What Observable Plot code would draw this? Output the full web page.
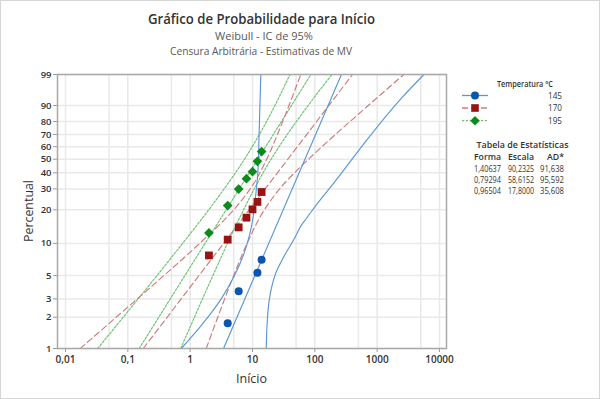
<!DOCTYPE html>
<html><head><meta charset="utf-8">
<script src="https://cdn.jsdelivr.net/npm/d3@7"></script>
<script src="https://cdn.jsdelivr.net/npm/@observablehq/plot@0.6"></script>
<style>
body{margin:0;background:#fff;}
#wrap{position:relative;width:600px;height:399px;overflow:hidden;background:#fff;}
#border{position:absolute;left:0;top:0;width:598px;height:397px;border:1px solid #d6d6d6;pointer-events:none}
</style></head><body>
<div id="wrap"><div id="border"></div></div>
<script>
// ---------- data ----------
const groups = ["145", "170", "195"];
const forma  = ["1,40637", "0,79294", "0,96504"];
const escala = ["90,2325", "58,6152", "17,8000"];
const adStat = ["91,638", "95,592", "35,608"];

// observed plotting positions (Início, Percentual)
const x145 = [4, 6, 12, 14];
const p145 = [1.75, 3.55, 5.32, 7.06];
const x170 = [2, 4, 6, 8, 10, 12, 14];
const p170 = [7.74, 10.84, 14.0, 17.1, 20.2, 23.4, 28.3];
const x195 = [2, 4, 6, 8, 10, 12, 14];
const p195 = [12.46, 21.8, 29.9, 36.1, 40.8, 48.4, 56.0];

// fitted lines (end points at 1% and 99%)
const fitP = [1, 99];
const fit145X = [3.43, 267];
const fit170X = [0.177, 402];
const fit195X = [0.152, 86.6];

// confidence bounds
const ci145LoP = [1, 1.66, 3.0, 5.0, 8.3, 11.9, 16.8, 22, 40.6, 66.7, 90.3, 99];
const ci145LoX = [0.72, 1.5, 3.15, 5.14, 7.44, 8.95, 10.15, 10.8, 12.2, 12.7, 13.15, 13.6];
const ci145HiP = [1, 1.78, 2.6, 3.74, 5.4, 7.74, 11.1, 14.6, 16.8, 22, 34, 66.7, 93.3, 99];
const ci145HiX = [16.6, 17.2, 18.1, 20, 24, 32.6, 47, 60.5, 73, 105, 207, 711, 2437, 5640];
const ciP = [1, 2, 5, 10, 20, 30, 50, 70, 90, 99];
const ci170LoX = [0.0172, 0.0649, 0.378, 1.42, 4.99, 9.19, 16.9, 25.1, 38.5, 59.4];
const ci170HiX = [1.81, 2.77, 4.99, 8.19, 15.5, 27.2, 79.2, 214, 720, 2673];
const ci195LoX = [0.0328, 0.0841, 0.293, 0.755, 1.98, 3.51, 7.44, 12.9, 22.9, 39.8];
const ci195HiX = [0.704, 1.17, 2.31, 3.96, 7.17, 10.65, 19.9, 36.1, 78.1, 188];

// axes
const yTicks = [1, 2, 3, 5, 10, 20, 30, 40, 50, 60, 70, 80, 90, 99];
const xGrid = [0.01, 0.05, 0.1, 0.5, 1, 5, 10, 50, 100, 500, 1000, 5000, 10000];
const xTicks = [0.01, 0.1, 1, 10, 100, 1000, 10000];
const xLabels = ["0,01", "0,1", "1", "10", "100", "1000", "10000"];

// ---------- styles ----------
const lineCol = {"145": "#5b97d6", "170": "#d07a7a", "195": "#6cc271"};
const dotCol  = {"145": "#0a55b0", "170": "#981313", "195": "#0c8a1c"};
const dash    = {"145": null, "170": "6,3.5", "195": "2.2,1.6"};
const FONT = "'Open Sans','Noto Sans',sans-serif";

// Weibull probability transform
const W = p => Math.log(-Math.log(1 - p / 100));
const Winv = w => 100 * (1 - Math.exp(-Math.exp(w)));

function toRows(id, g, xs, ps) { return xs.map((x, i) => ({id, g, x, p: ps[i]})); }
const lines = [
  ...toRows("f145", "145", fit145X, fitP),
  ...toRows("f170", "170", fit170X, fitP),
  ...toRows("f195", "195", fit195X, fitP),
  ...toRows("l145", "145", ci145LoX, ci145LoP),
  ...toRows("h145", "145", ci145HiX, ci145HiP),
  ...toRows("l170", "170", ci170LoX, ciP),
  ...toRows("h170", "170", ci170HiX, ciP),
  ...toRows("l195", "195", ci195LoX, ciP),
  ...toRows("h195", "195", ci195HiX, ciP)
];
const pts = [
  ...toRows("145", "145", x145, p145),
  ...toRows("170", "170", x170, p170),
  ...toRows("195", "195", x195, p195)
];

function lineMark(g) {
  return Plot.line(lines.filter(d => d.g === g), {
    x: "x", y: d => W(d.p), z: "id", curve: "monotone-y",
    stroke: lineCol[g], strokeWidth: 1.15, strokeDasharray: dash[g]
  });
}

const chart = Plot.plot({
  width: 600, height: 399,
  marginLeft: 57, marginRight: 154, marginTop: 74, marginBottom: 51,
  style: {fontFamily: FONT, fontSize: "10px", color: "#333", background: "transparent", overflow: "visible"},
  x: {type: "log", domain: [0.00744, 12950]},
  y: {type: "linear", domain: [W(1), W(99)]},
  marks: [
    Plot.ruleX(xGrid, {stroke: "#e9e9e9", strokeWidth: 1.5}),
    Plot.ruleY(yTicks.map(W), {stroke: "#e9e9e9", strokeWidth: 1.5}),
    Plot.axisX({ticks: xTicks, tickFormat: d => xLabels[xTicks.indexOf(d)], tickSize: 4, tickPadding: 3, label: null, stroke: "#999", fill: "#333", fontWeight: 600}),
    Plot.axisY({ticks: yTicks.map(W), tickFormat: d => String(Math.round(Winv(d))), tickSize: 4, tickPadding: 2, label: null, stroke: "#999", fill: "#333", fontWeight: 600, fontSize: 9.5}),
    lineMark("195"), lineMark("170"), lineMark("145"),
    Plot.dot(pts.filter(d => d.g === "145"), {x: "x", y: d => W(d.p), r: 4, fill: dotCol["145"], symbol: "circle"}),
    Plot.dot(pts.filter(d => d.g === "170"), {x: "x", y: d => W(d.p), r: 4.4, fill: dotCol["170"], symbol: "square"}),
    Plot.dot(pts.filter(d => d.g === "195"), {x: "x", y: d => W(d.p), r: 4.4, fill: dotCol["195"], symbol: "diamond2"}),
    Plot.frame({stroke: "#a9a9a9", strokeWidth: 1.5})
  ]
});
chart.style.position = "absolute";
chart.style.left = "0px";
chart.style.top = "0px";
document.getElementById("wrap").appendChild(chart);

// ---------- titles, labels, legend ----------
const ov = d3.select("#wrap").append("svg")
  .attr("width", 600).attr("height", 399)
  .style("position", "absolute").style("left", "0px").style("top", "0px")
  .style("font-family", FONT);
function txt(x, y, s, o = {}) {
  const t = ov.append("text").attr("x", x).attr("y", y).attr("dy", "0.35em")
    .attr("text-anchor", o.anchor || "middle").attr("font-size", o.size || 10)
    .attr("font-weight", o.weight || 400).attr("fill", o.fill || "#333").text(s);
  if (o.len) t.attr("textLength", o.len).attr("lengthAdjust", "spacingAndGlyphs");
  if (o.rotate) t.attr("transform", `rotate(-90 ${x} ${y})`);
  return t;
}
txt(261.5, 19.5, "Gráfico de Probabilidade para Início", {size: 14, weight: 600, fill: "#333", len: 227});
txt(264, 35.5, "Weibull - IC de 95%", {size: 11.5, fill: "#595959", len: 98});
txt(261, 51, "Censura Arbitrária - Estimativas de MV", {size: 11.5, fill: "#595959", len: 182});
txt(251.5, 378, "Início", {size: 13, weight: 500, len: 31});
txt(28, 211, "Percentual", {size: 13, weight: 500, rotate: true, len: 62});

txt(525, 84.5, "Temperatura °C", {size: 8.5, weight: 600, len: 56});
const rowsY = [95.5, 108, 120.7];
groups.forEach((g, i) => {
  const y = rowsY[i];
  ov.append("line").attr("x1", 462).attr("x2", 488).attr("y1", y).attr("y2", y)
    .attr("stroke", lineCol[g]).attr("stroke-width", 1.3).attr("stroke-dasharray", dash[g]);
  const sym = [d3.symbolCircle, d3.symbolSquare, d3.symbolDiamond2][i];
  ov.append("path").attr("d", d3.symbol(sym, i === 0 ? 50 : 58)()).attr("transform", `translate(475,${y})`).attr("fill", dotCol[g]);
  txt(562, y, g, {anchor: "end", size: 9, len: 14});
});
txt(522.5, 145, "Tabela de Estatísticas", {size: 8.5, weight: 600, len: 92});
txt(501, 157, "Forma", {anchor: "end", size: 8.5, weight: 600, len: 27});
txt(534, 157, "Escala", {anchor: "end", size: 8.5, weight: 600, len: 26});
txt(564, 157, "AD*", {anchor: "end", size: 8.5, weight: 600, len: 17});
const statY = [168.7, 179.7, 190.7];
groups.forEach((g, i) => {
  txt(501, statY[i], forma[i], {anchor: "end", size: 8.3, len: 27});
  txt(534, statY[i], escala[i], {anchor: "end", size: 8.3, len: 26});
  txt(564, statY[i], adStat[i], {anchor: "end", size: 8.3, len: 24});
});
</script>
</body></html>
